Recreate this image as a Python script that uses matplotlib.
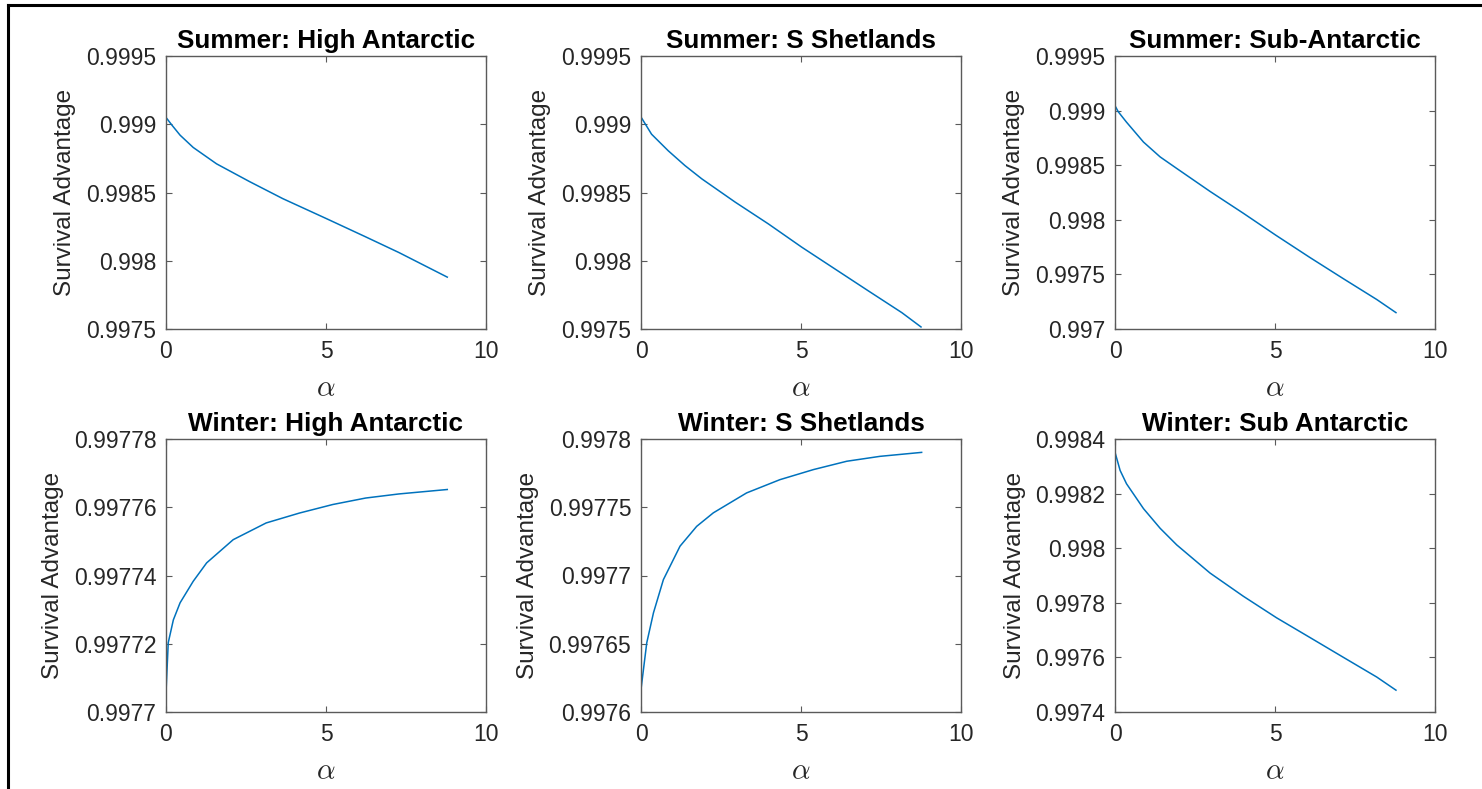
import numpy as np
import matplotlib
matplotlib.use("Agg")
import matplotlib.pyplot as plt
from matplotlib.lines import Line2D

plt.rcParams["font.family"] = ["Liberation Sans", "DejaVu Sans"]
plt.rcParams["mathtext.fontset"] = "cm"

# values
alpha_sum_ha = [0, 0.18, 0.44, 0.85, 1.58, 2.61, 3.65, 5.0, 6.24, 7.28, 8.79]
summer_ha = [0.99905, 0.998995, 0.99892, 0.99883, 0.99871, 0.99858, 0.998455,
             0.99831, 0.998175, 0.99806, 0.99788]

alpha_sum_ss = [0, 0.33, 0.85, 1.375, 1.9, 2.94, 3.98, 5.02, 6.06, 7.1, 8.15, 8.75]
summer_ss = [0.999053, 0.998927, 0.998806, 0.998697, 0.9986, 0.99843, 0.99827,
             0.9981, 0.99794, 0.99778, 0.99762, 0.997515]

alpha_sum_sa = [0, 0.1, 0.36, 0.89, 1.41, 1.93, 2.97, 4.01, 5.02, 6.09, 7.14, 8.18, 8.78]
summer_sa = [0.999045, 0.99899, 0.998894, 0.998712, 0.998576, 0.99847, 0.99826,
             0.99806, 0.99786, 0.997655, 0.99746, 0.99727, 0.99715]

alpha_win_ha = [0, 0.07, 0.23, 0.44, 0.85, 1.27, 2.1, 3.13, 4.17, 5.21, 6.24, 7.28, 8.79]
winter_ha = [0.9977057, 0.9977203, 0.997727, 0.997732, 0.9977383, 0.9977437,
             0.9977505, 0.9977554, 0.9977583, 0.9977608, 0.9977627, 0.9977639,
             0.9977652]

alpha_win_ss = [0, 0.18, 0.39, 0.7, 1.22, 1.74, 2.26, 3.3, 4.34, 5.39, 6.43, 7.47, 8.77]
winter_ss = [0.9976166, 0.9976507, 0.9976727, 0.997697, 0.9977215, 0.997736,
             0.9977459, 0.9977605, 0.9977702, 0.9977776, 0.9977837, 0.9977873,
             0.9977902]

alpha_win_sa = [0, 0.16, 0.36, 0.89, 1.41, 1.93, 2.97, 4.01, 5.05, 6.09, 7.14, 8.18, 8.78]
winter_sa = [0.9983515, 0.9982848, 0.998236, 0.998145, 0.998073, 0.998012,
             0.997909, 0.997824, 0.997745, 0.997673, 0.9976, 0.997528, 0.99748]

titles = ["Summer: High Antarctic", "Summer: S Shetlands", "Summer: Sub-Antarctic",
          "Winter: High Antarctic", "Winter: S Shetlands", "Winter: Sub Antarctic"]

yticks = [
    [0.9975, 0.998, 0.9985, 0.999, 0.9995],
    [0.9975, 0.998, 0.9985, 0.999, 0.9995],
    [0.997, 0.9975, 0.998, 0.9985, 0.999, 0.9995],
    [0.9977, 0.99772, 0.99774, 0.99776, 0.99778],
    [0.9976, 0.99765, 0.9977, 0.99775, 0.9978],
    [0.9974, 0.9976, 0.9978, 0.998, 0.9982, 0.9984],
]
ytick_labels = [
    ["0.9975", "0.998", "0.9985", "0.999", "0.9995"],
    ["0.9975", "0.998", "0.9985", "0.999", "0.9995"],
    ["0.997", "0.9975", "0.998", "0.9985", "0.999", "0.9995"],
    ["0.9977", "0.99772", "0.99774", "0.99776", "0.99778"],
    ["0.9976", "0.99765", "0.9977", "0.99775", "0.9978"],
    ["0.9974", "0.9976", "0.9978", "0.998", "0.9982", "0.9984"],
]

series = [
    (alpha_sum_ha, summer_ha), (alpha_sum_ss, summer_ss), (alpha_sum_sa, summer_sa),
    (alpha_win_ha, winter_ha), (alpha_win_ss, winter_ss), (alpha_win_sa, winter_sa),
]

W, H = 1482, 789
fig = plt.figure(figsize=(W / 100, H / 100), dpi=100)

col_left = [166, 641, 1115]
row_top = [56, 439]
ax_w, ax_h = 320, 273

txt = "#262626"
for i, (xs, ys) in enumerate(series):
    r, c = divmod(i, 3)
    left = col_left[c] / W
    bottom = 1 - (row_top[r] + ax_h) / H
    ax = fig.add_axes([left, bottom, ax_w / W, ax_h / H])
    ax.plot(xs, ys, color="#0072BD", lw=1.1)
    ax.set_xlim(0, 10)
    ax.set_ylim(yticks[i][0], yticks[i][-1])
    ax.set_xticks([0, 5, 10])
    ax.set_yticks(yticks[i])
    ax.set_yticklabels(ytick_labels[i])
    ax.tick_params(direction="in", length=4, width=0.8, top=True, right=True,
                   labelsize=16.5, colors="#5a5a5a", labelcolor=txt)
    ax.tick_params(axis="y", pad=7)
    ax.tick_params(axis="x", pad=8)
    for s in ax.spines.values():
        s.set_color("#5a5a5a")
        s.set_linewidth(1.0)
    ax.set_title(titles[i], fontsize=18.8, fontweight="bold", pad=6, color="black")
    ax.set_ylabel("Survival Advantage", fontsize=17.5, color=txt, labelpad=7)
    ax.set_xlabel(r"$\alpha$", fontsize=21, color=txt, labelpad=8)

# black frame lines on the left and top
fig.add_artist(Line2D([8 / W, 8 / W], [0, 1 - 5 / H], color="black", lw=2.2,
                      transform=fig.transFigure))
fig.add_artist(Line2D([8 / W, 1], [1 - 5 / H, 1 - 5 / H], color="black", lw=2.2,
                      transform=fig.transFigure))

fig.savefig("out.png", dpi=100)
